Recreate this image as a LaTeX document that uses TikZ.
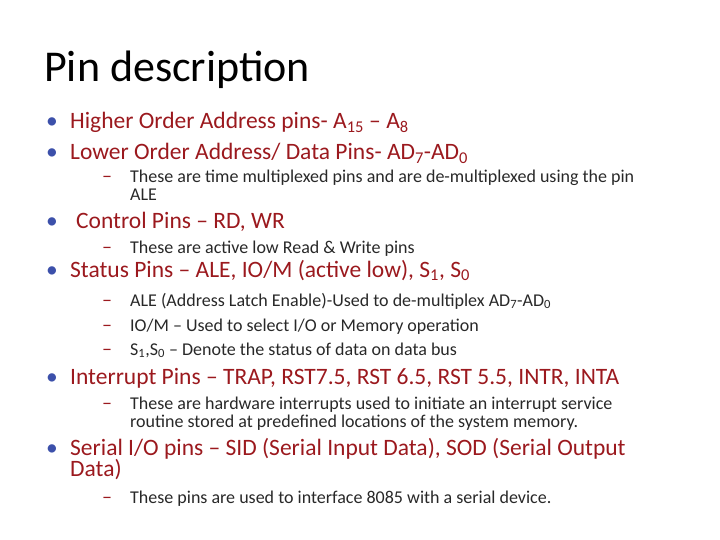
\documentclass[tikz,border=0pt]{standalone}
\usepackage{fontspec}
\setmainfont{Carlito}
\definecolor{mainred}{RGB}{155,25,30}
\definecolor{bul}{RGB}{60,80,170}
\definecolor{subtxt}{RGB}{40,40,40}
\begin{document}
\begin{tikzpicture}[x=1pt,y=-1pt,
  title/.style={anchor=base west,inner sep=0pt,font=\fontsize{44}{48}\selectfont,text=black},
  lvlone/.style={anchor=base west,inner sep=0pt,font=\fontsize{23.5}{26}\selectfont,text=mainred},
  lvltwo/.style={anchor=base west,inner sep=0pt,font=\fontsize{18}{21}\selectfont,text=subtxt},
  dot/.style={anchor=base west,inner sep=0pt,font=\fontsize{23.5}{26}\selectfont,text=bul},
  dsh/.style={anchor=base west,inner sep=0pt,font=\fontsize{20}{21}\selectfont,text=mainred}]
\useasboundingbox (0,0) rectangle (720,540);
\node[title] (t) at (44,82) {Pin description};
\node[dot] (d1) at (46,129) {•};
\node[lvlone] (b1) at (70,129) {Higher Order Address pins- A\textsubscript{15} – A\textsubscript{8}};
\node[dot] (d2) at (46,160) {•};
\node[lvlone] (b2) at (70,160) {Lower Order Address/ Data Pins- AD\textsubscript{7}-AD\textsubscript{0}};
\node[dsh] (s1d) at (102,183) {–};
\node[lvltwo] (s1) at (130,183) {These are time multiplexed pins and are de-multiplexed using the pin};
\node[lvltwo] (s1b) at (130,201) {ALE};
\node[dot] (d3) at (46,229) {•};
\node[lvlone] (b3) at (76,229) {Control Pins – RD, WR};
\node[dsh] (s2d) at (102,254) {–};
\node[lvltwo] (s2) at (130,254) {These are active low Read \& Write pins};
\node[dot] (d4) at (46,277) {•};
\node[lvlone] (b4) at (70,277) {Status Pins – ALE, IO/M (active low), S\textsubscript{1}, S\textsubscript{0}};
\node[dsh] (s3d) at (102,306) {–};
\node[lvltwo] (s3) at (130,306) {ALE (Address Latch Enable)-Used to de-multiplex AD\textsubscript{7}-AD\textsubscript{0}};
\node[dsh] (s4d) at (102,331) {–};
\node[lvltwo] (s4) at (130,331) {IO/M – Used to select I/O or Memory operation};
\node[dsh] (s5d) at (102,355) {–};
\node[lvltwo] (s5) at (130,355) {S\textsubscript{1},S\textsubscript{0} – Denote the status of data on data bus};
\node[dot] (d5) at (46,384) {•};
\node[lvlone] (b5) at (70,384) {Interrupt Pins – TRAP, RST7.5, RST 6.5, RST 5.5, INTR, INTA};
\node[dsh] (s6d) at (102,409) {–};
\node[lvltwo] (s6) at (130,409) {These are hardware interrupts used to initiate an interrupt service};
\node[lvltwo] (s6b) at (130,427) {routine stored at predefined locations of the system memory.};
\node[dot] (d6) at (46,455) {•};
\node[lvlone] (b6) at (70,455) {Serial I/O pins – SID (Serial Input Data), SOD (Serial Output};
\node[lvlone] (b6b) at (70,476) {Data)};
\node[dsh] (s7d) at (102,503) {–};
\node[lvltwo] (s7) at (130,503) {These pins are used to interface 8085 with a serial device.};
\end{tikzpicture}
\end{document}
